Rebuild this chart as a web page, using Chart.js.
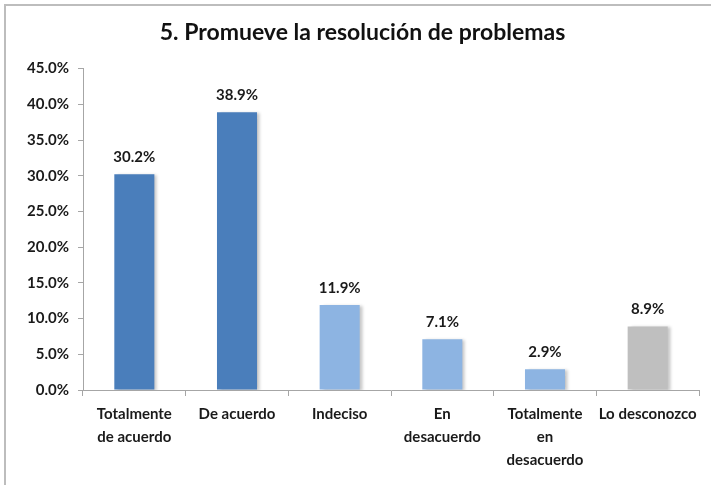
<!DOCTYPE html>
<html>
<head>
<meta charset="utf-8">
<script src="https://cdn.jsdelivr.net/npm/chart.js@4"></script>
<style>
  html, body { margin: 0; padding: 0; background: #ffffff; }
  #wrap { width: 711px; height: 485px; position: relative; }
</style>
</head>
<body>
<div id="wrap"><canvas id="c" width="711" height="485"></canvas></div>
<script>
const categories = [
  ["Totalmente", "de acuerdo"],
  "De acuerdo",
  "Indeciso",
  ["En", "desacuerdo"],
  ["Totalmente", "en", "desacuerdo"],
  "Lo desconozco"
];
const values = [30.2, 38.9, 11.9, 7.1, 2.9, 8.9];
const valueLabels = ["30.2%", "38.9%", "11.9%", "7.1%", "2.9%", "8.9%"];
const barColors = ["#4A7EBB", "#4A7EBB", "#8DB4E2", "#8DB4E2", "#8DB4E2", "#BFBFBF"];
const yTickValues = [0, 5, 10, 15, 20, 25, 30, 35, 40, 45];
const titleText = "5. Promueve la resolución de problemas";

const FONT = "Lato, 'Open Sans', sans-serif";

const frame = {
  id: 'frame',
  beforeDraw(chart) {
    const ctx = chart.ctx;
    ctx.save();
    ctx.fillStyle = '#ffffff';
    ctx.fillRect(0, 0, chart.width, chart.height);
    ctx.strokeStyle = '#BDBDBD';
    ctx.lineWidth = 2;
    ctx.beginPath();
    ctx.moveTo(5, chart.height);
    ctx.lineTo(5, 5);
    ctx.lineTo(chart.width, 5);
    ctx.stroke();
    ctx.restore();
  }
};

const shadow = {
  id: 'shadow',
  beforeDatasetsDraw(chart) {
    const ctx = chart.ctx;
    ctx.save();
    ctx.shadowColor = 'rgba(0,0,0,0.22)';
    ctx.shadowOffsetX = 3;
    ctx.shadowOffsetY = 1;
    ctx.shadowBlur = 3;
  },
  afterDatasetsDraw(chart) {
    chart.ctx.restore();
  }
};

const labelsPlugin = {
  id: 'valueLabels',
  afterDatasetsDraw(chart) {
    const ctx = chart.ctx;
    const meta = chart.getDatasetMeta(0);
    ctx.save();
    ctx.font = "bold 15px " + FONT;
    ctx.fillStyle = '#1a1a1a';
    ctx.textAlign = 'center';
    ctx.textBaseline = 'middle';
    meta.data.forEach((bar, i) => {
      ctx.fillText(valueLabels[i], bar.x, bar.y - 17);
    });
    ctx.restore();
  }
};

new Chart(document.getElementById('c'), {
  type: 'bar',
  data: {
    labels: categories,
    datasets: [{
      data: values,
      backgroundColor: barColors,
      borderWidth: 0,
      categoryPercentage: 1,
      barPercentage: 0.39
    }]
  },
  plugins: [frame, shadow, labelsPlugin],
  options: {
    responsive: false,
    animation: false,
    layout: { padding: { top: 14, right: 12, bottom: 0, left: 26 } },
    plugins: {
      legend: { display: false },
      tooltip: { enabled: false },
      title: {
        display: true,
        text: titleText,
        color: '#111111',
        font: { family: FONT, size: 23, weight: 'bold' },
        padding: { top: 5, bottom: 22 }
      }
    },
    scales: {
      x: {
        afterFit(scale) { scale.height = 95; },
        border: { display: true, color: '#A6A6A6', width: 1 },
        grid: { display: true, drawOnChartArea: false, drawTicks: true, tickLength: 6, color: '#A6A6A6', offset: true },
        ticks: {
          color: '#1a1a1a',
          font: { family: FONT, size: 15, weight: 'bold', lineHeight: '23px' },
          padding: 7,
          maxRotation: 0,
          autoSkip: false
        }
      },
      y: {
        min: 0,
        max: 45,
        afterFit(scale) { scale.width = 57; },
        afterBuildTicks(scale) { scale.ticks = yTickValues.map(v => ({ value: v })); },
        border: { display: true, color: '#A6A6A6', width: 1 },
        grid: { display: true, drawOnChartArea: false, drawTicks: true, tickLength: 5, color: '#A6A6A6' },
        ticks: {
          color: '#1a1a1a',
          font: { family: FONT, size: 15, weight: 'bold' },
          padding: 9,
          callback: (v) => Number(v).toFixed(1) + '%'
        }
      }
    }
  }
});
</script>
</body>
</html>
